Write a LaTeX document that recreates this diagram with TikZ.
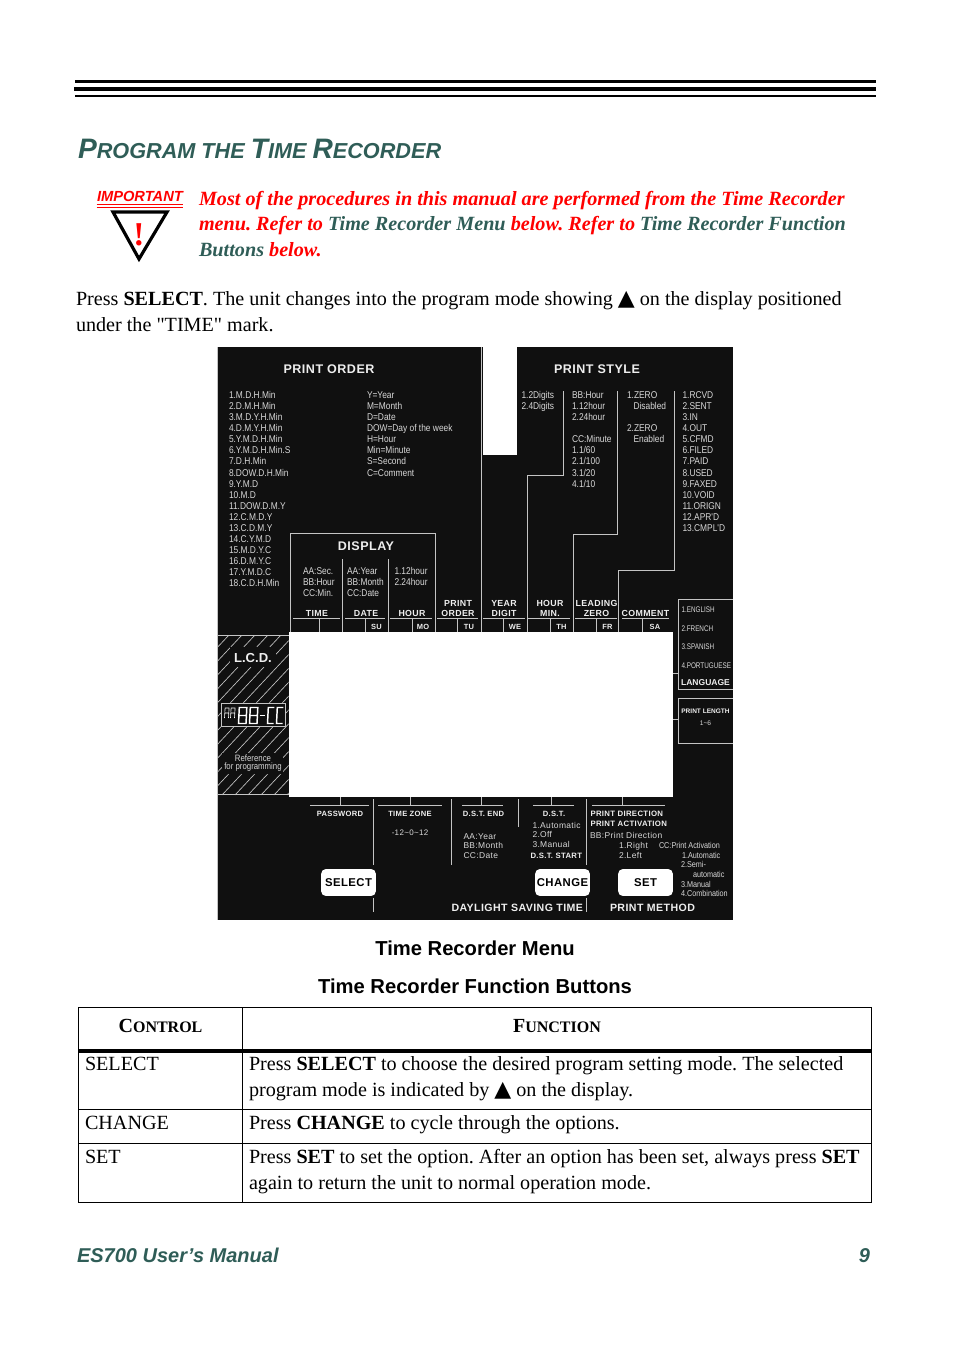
\documentclass[tikz,border=0pt]{standalone}
\usepackage{fontspec}
\setmainfont{Liberation Serif}
\setsansfont{Liberation Sans}
\newfontfamily\dejavu{DejaVu Sans}
\newfontfamily\plainserif{Liberation Serif}
\newfontfamily\narrowf[FakeStretch=0.85]{Liberation Sans}
\newfontfamily\vnarrowf[FakeStretch=0.78]{Liberation Sans}
\newfontfamily\widef[LetterSpace=4]{Liberation Sans}
\definecolor{panel}{HTML}{101010}
\definecolor{ptext}{HTML}{D8D8D8}
\definecolor{phead}{HTML}{EEEEEE}
\definecolor{pline}{HTML}{C4C4C4}
\definecolor{ttlgreen}{HTML}{2F5D57}
\definecolor{alertred}{HTML}{FF0000}
\newcommand{\fs}[1]{\fontsize{#1}{#1}\selectfont}
\newcommand{\uptri}{{\dejavu\fontsize{16.5}{16.5}\selectfont ▲}}
\frenchspacing
\tikzset{
 txt/.style={anchor=base west,inner sep=0pt,outer sep=0pt},
 ctr/.style={anchor=base,inner sep=0pt,outer sep=0pt},
 rgt/.style={anchor=base east,inner sep=0pt,outer sep=0pt},
 bodyt/.style={txt,font=\fontsize{15.1}{15.1}\selectfont},
 alertt/.style={txt,text=alertred,font=\fontsize{15.15}{15.15}\selectfont\bfseries\itshape},
 smallt/.style={txt,text=ptext,font=\narrowf\fs{7.4}},
 tinyt/.style={txt,text=ptext,font=\vnarrowf\fs{6.1}},
 cat/.style={txt,text=ptext,font=\narrowf\fs{6.4}},
 widet/.style={txt,text=ptext,font=\widef\fs{6.35}},
 headt/.style={ctr,text=phead,font=\widef\bfseries\fs{9.4}},
 colh/.style={ctr,text=phead,font=\widef\bfseries\fs{6.6}},
 dayt/.style={ctr,text=phead,font=\widef\bfseries\fs{5.6}},
 btnbox/.style={draw=none,fill=white,rounded corners=3.5pt,inner sep=0pt,outer sep=0pt,text=black,minimum height=20.2pt,font=\widef\bfseries\fs{8.5}},
 gl/.style={draw=pline,line width=.75pt},
 tbl/.style={draw=black,line width=.7pt},
}
\newcommand{\lst}[6]{\foreach \t [count=\i from 0] in {#6} {\node[#5] (#1\i) at (#2,{#3+\i*#4}) {\t};}}
\begin{document}
\begin{tikzpicture}[x=.75pt,y=-.75pt]
\useasboundingbox (0,0) rectangle (954,1352);
% top rules
\fill (75,80) rectangle (876,83.5);
\fill (74,87) rectangle (876,91);
\fill (75,95) rectangle (876,97);
% title
\node[txt,text=ttlgreen,font=\sffamily\bfseries\itshape] (title) at (78,159)
 {\fs{21.1}P\fs{16.25}ROGRAM THE \fs{21.1}T\fs{16.25}IME \fs{21.1}R\fs{16.25}ECORDER};
% important block
\node[txt,text=alertred,font=\sffamily\bfseries\itshape\fs{11}] (imp) at (97,201) {IMPORTANT};
\draw[alertred,line width=.6pt] (96.5,204.3) -- (183,204.3) (96.5,207) -- (183,207);
\draw[line width=2.4pt,miter limit=10] (113,212) -- (167,212) -- (139,259) -- cycle;
\node[ctr,text=alertred,font=\bfseries\fs{25}] (bang) at (139,245) {!};
\node[alertt] (al1) at (199,205) {Most of the procedures in this manual are performed from the Time Recorder};
\node[alertt] (al2) at (199,230) {menu. Refer to \textcolor{ttlgreen}{Time Recorder Menu} below. Refer to \textcolor{ttlgreen}{Time Recorder Function}};
\node[alertt] (al3) at (199,256) {\textcolor{ttlgreen}{Buttons} below.};
% intro
\node[bodyt] (in1) at (76,305) {Press \textbf{SELECT}. The unit changes into the program mode showing \uptri\ on the display positioned};
\node[bodyt] (in2) at (76,331) {under the {\plainserif"TIME"} mark.};
% panel
\fill[panel] (217.5,347) rectangle (733,920);
\fill[white] (482.5,347) rectangle (517,455);
\fill[white] (288.5,632) rectangle (673,797);
% hatching
\begin{scope}
\clip (218,635) rectangle (288.5,795);
\foreach \h in {0,...,20} \draw[pline,line width=.5pt] ({218-165+\h*13},795) -- ({218-165+\h*13+150},635);
\end{scope}
\draw[gl] (218,635) -- (288.5,635) (218,794.5) -- (288.5,794.5);
\draw[pline,line width=.5pt] (217.7,347) -- (217.7,920);
% hatch labels
\node[fill=panel,minimum width=34.5pt,minimum height=15pt,inner sep=0pt] (lcdbg) at (253,657) {};
\node[ctr,text=phead,font=\sffamily\bfseries\fs{9.8}] (lcd) at (253,662) {L.C.D.};
\node[fill=panel,minimum width=46pt,minimum height=15.8pt,inner sep=0pt] (refbg) at (252.5,763.5) {};
\node[ctr,text=ptext,font=\narrowf\fs{6.9}] (ref1) at (253,761) {Reference};
\node[ctr,text=ptext,font=\narrowf\fs{6.9}] (ref2) at (253,769.5) {for programming};
% LCD display
\draw[pline,fill=panel,line width=.5pt] (221,703) rectangle (285,726);
\begin{scope}[draw=white]
 \foreach \x in {224.5,230.5} \draw[line width=.45pt] (\x,718) -- (\x+.6,708) -- (\x+4.6,708) -- (\x+4,718) (\x+.3,713) -- (\x+4.3,713);
 \foreach \x in {238.5,249.5} \draw[line width=1.1pt] (\x,723.5) -- (\x+.8,707.5) -- (\x+8.3,707.5) -- (\x+7.5,723.5) -- cycle (\x+.4,715.5) -- (\x+7.9,715.5);
 \draw[line width=1.3pt] (260,715.5) -- (265,715.5);
 \foreach \x in {267.5,276.5} \draw[line width=1.1pt] (\x+6.8,707.5) -- (\x+.8,707.5) -- (\x,723.5) -- (\x+6,723.5);
\end{scope}
% print order
\node[headt] (ph1) at (329,373.5) {PRINT ORDER};
\node[headt] (ph2) at (597,373.5) {PRINT STYLE};
\lst{po}{229}{398.5}{11.08}{smallt}{1.M.D.H.Min,2.D.M.H.Min,3.M.D.Y.H.Min,4.D.M.Y.H.Min,5.Y.M.D.H.Min,6.Y.M.D.H.Min.S,7.D.H.Min,8.DOW.D.H.Min,9.Y.M.D,10.M.D,11.DOW.D.M.Y,12.C.M.D.Y,13.C.D.M.Y,14.C.Y.M.D,15.M.D.Y.C,16.D.M.Y.C,17.Y.M.D.C,18.C.D.H.Min}
\lst{ky}{367}{398.5}{11.08}{smallt}{Y=Year,M=Month,D=Date,DOW=Day of the week,H=Hour,Min=Minute,S=Second,C=Comment}
\lst{yd}{521.5}{398.5}{11.08}{smallt}{1.2Digits,2.4Digits}
\lst{hm}{572}{398.5}{11.08}{smallt}{BB:Hour,1.12hour,2.24hour,{},CC:Minute,1.1/60,2.1/100,3.1/20,4.1/10}
\node[smallt] (z1) at (627,398.5) {1.ZERO};
\node[smallt] (z2) at (633.5,409.6) {Disabled};
\node[smallt] (z3) at (627,431.7) {2.ZERO};
\node[smallt] (z4) at (633.5,442.8) {Enabled};
\lst{cm}{682.5}{398.5}{11.08}{smallt}{1.RCVD,2.SENT,3.IN,4.OUT,5.CFMD,6.FILED,7.PAID,8.USED,9.FAXED,10.VOID,11.ORIGN,12.APR'D,13.CMPL'D}
% display
\node[headt] (disp) at (366,550) {DISPLAY};
\lst{da}{303}{574}{11.08}{smallt}{AA:Sec.,BB:Hour,CC:Min.}
\lst{db}{347}{574}{11.08}{smallt}{AA:Year,BB:Month,CC:Date}
\lst{dc}{394.5}{574}{11.08}{smallt}{1.12hour,2.24hour}
% column heads
\node[colh] (c1) at (317,616.5) {TIME};
\node[colh] (c2) at (366,616.5) {DATE};
\node[colh] (c3) at (412,616.5) {HOUR};
\node[colh] (c4a) at (458,606) {PRINT};
\node[colh] (c4b) at (458,616.5) {ORDER};
\node[colh] (c5a) at (504,606) {YEAR};
\node[colh] (c5b) at (504,616.5) {DIGIT};
\node[colh] (c6a) at (550,606) {HOUR};
\node[colh] (c6b) at (550,616.5) {MIN.};
\node[colh] (c7a) at (596.5,606) {LEADING};
\node[colh] (c7b) at (596.5,616.5) {ZERO};
\node[colh] (c8) at (645.5,616.5) {COMMENT};
\node[dayt] (d1) at (376.5,629) {SU};
\node[dayt] (d2) at (423,629) {MO};
\node[dayt] (d3) at (469,629) {TU};
\node[dayt] (d4) at (515,629) {WE};
\node[dayt] (d5) at (561.5,629) {TH};
\node[dayt] (d6) at (607.5,629) {FR};
\node[dayt] (d7) at (655,629) {SA};
% upper lines
\draw[gl] (290,632) -- (290,533.5) -- (435,533.5) -- (435,632);
\draw[gl] (342.5,559) -- (342.5,632) (388.5,559) -- (388.5,632);
\draw[gl] (481,347) -- (481,632);
\draw[gl] (527,632) -- (527,475) -- (563.5,475) -- (563.5,391);
\draw[gl] (573,632) -- (573,534) -- (617,534) -- (617,391);
\draw[gl] (618.5,632) -- (618.5,570) -- (674.5,570) -- (674.5,391);
\foreach \a/\b in {293/340,345/385,390/432,437/478,483/525,528/570,575/617,622/669} \draw[gl] (\a,618.5) -- (\b,618.5);
\foreach \x in {319,365,412,457,503.5,550,596,642} \draw[gl] (\x,618.5) -- (\x,632);
% language
\draw[gl] (733,599.5) -- (678,599.5) -- (678,689.5) -- (733,689.5);
\draw[gl] (673,673.5) -- (678,673.5);
\lst{lg}{681.5}{612.5}{18.7}{tinyt}{1.ENGLISH,2.FRENCH,3.SPANISH,4.PORTUGUESE}
\node[ctr,text=phead,font=\sffamily\bfseries\fs{6.4}] (lgh) at (705.5,685.5) {LANGUAGE};
% print length
\draw[gl] (733,698) -- (678,698) -- (678,743) -- (733,743);
\draw[gl] (673,719.5) -- (678,719.5);
\node[ctr,text=phead,font=\sffamily\bfseries\fs{4.9}] (pl) at (705.5,713.5) {PRINT LENGTH};
\node[ctr,text=ptext,font=\sffamily\fs{5}] (pl2) at (705.5,725.5) {1\textasciitilde6};
% lower lines
\foreach \a/\b/\x in {310/369/340,378/442/410,462/503/481,533/574/551,592/665/622}{
 \draw[gl] (\a,805) -- (\b,805) (\x,797) -- (\x,805);}
\draw[gl] (373,799) -- (373,865) (373,898) -- (373,912);
\draw[gl] (451,799) -- (451,865);
\draw[gl] (518,799) -- (518,827);
\draw[gl] (586.5,799) -- (586.5,865) (586.5,898) -- (586.5,912);
% lower text
\node[colh,font=\widef\bfseries\fs{5.7}] (pw) at (340,816) {PASSWORD};
\node[colh,font=\widef\bfseries\fs{5.7}] (tz) at (410,816) {TIME ZONE};
\node[ctr,text=ptext,font=\widef\fs{6}] (tzv) at (410,835) {-12\textasciitilde0\textasciitilde12};
\node[colh,font=\widef\bfseries\fs{5.7}] (de) at (483.5,816) {D.S.T. END};
\lst{dd}{463.5}{839}{9.8}{widet}{AA:Year,BB:Month,CC:Date}
\node[colh,font=\widef\bfseries\fs{5.7}] (ds) at (554,816) {D.S.T.};
\lst{dt}{532.5}{828}{9.8}{widet}{1.Automatic,2.Off,3.Manual}
\node[txt,text=phead,font=\widef\bfseries\fs{5.8}] (dst) at (530.5,858.5) {D.S.T. START};
\node[txt,text=phead,font=\widef\bfseries\fs{5.85}] (pd1) at (590.5,816) {PRINT DIRECTION};
\node[txt,text=phead,font=\widef\bfseries\fs{5.85}] (pd2) at (590.5,826) {PRINT ACTIVATION};
\node[widet] (pd3) at (590,838) {BB:Print Direction};
\node[widet] (pd4) at (619,848.5) {1.Right};
\node[widet] (pd5) at (619,858.5) {2.Left};
\node[cat] (ca0) at (659,848) {CC:Print Activation};
\node[cat] (ca1) at (682,858) {1.Automatic};
\node[cat] (ca2) at (681,867.5) {2.Semi-};
\node[cat] (ca3) at (693,877) {automatic};
\node[cat] (ca4) at (681,887) {3.Manual};
\node[cat] (ca5) at (681,896.5) {4.Combination};
% buttons
\node[btnbox,minimum width=41pt] (bsel) at (348.5,882.5) {SELECT};
\node[btnbox,minimum width=41pt] (bchg) at (562.5,882.5) {CHANGE};
\node[btnbox,minimum width=41pt] (bset) at (645.5,882.5) {SET};
\node[txt,text=phead,font=\widef\bfseries\fs{7.95}] (dl) at (451.5,911.5) {DAYLIGHT SAVING TIME};
\node[txt,text=phead,font=\widef\bfseries\fs{7.95}] (pm) at (610,911.5) {PRINT METHOD};
% captions
\node[ctr,font=\sffamily\bfseries\fs{15.15}] (cap1) at (475,955) {Time Recorder Menu};
\node[ctr,font=\sffamily\bfseries\fs{15.15}] (cap2) at (475,993) {Time Recorder Function Buttons};
% table
\draw[tbl] (78.5,1007.5) rectangle (871.5,1202.5);
\draw[tbl] (242.5,1007.5) -- (242.5,1202.5);
\fill (78.5,1049) rectangle (871.5,1052.5);
\draw[tbl] (78.5,1109.5) -- (871.5,1109.5) (78.5,1143.5) -- (871.5,1143.5);
\node[ctr,font=\bfseries] (th1) at (160.5,1032) {\fs{15}C\fs{12}ONTROL};
\node[ctr,font=\bfseries] (th2) at (557,1032) {\fs{15}F\fs{12}UNCTION};
\node[bodyt] (r1a) at (85,1070) {SELECT};
\node[bodyt] (r1b) at (249,1070) {Press \textbf{SELECT} to choose the desired program setting mode. The selected};
\node[bodyt] (r1c) at (249,1096) {program mode is indicated by \uptri\ on the display.};
\node[bodyt] (r2a) at (85,1129) {CHANGE};
\node[bodyt] (r2b) at (249,1129) {Press \textbf{CHANGE} to cycle through the options.};
\node[bodyt] (r3a) at (85,1163) {SET};
\node[bodyt] (r3b) at (249,1163) {Press \textbf{SET} to set the option. After an option has been set, always press \textbf{SET}};
\node[bodyt] (r3c) at (249,1189) {again to return the unit to normal operation mode.};
% footer
\node[txt,text=ttlgreen,font=\sffamily\bfseries\itshape\fs{15}] (ft1) at (77,1262) {ES700 User’s Manual};
\node[rgt,text=ttlgreen,font=\sffamily\bfseries\itshape\fs{15}] (ft2) at (870,1262) {9};
\end{tikzpicture}
\end{document}
